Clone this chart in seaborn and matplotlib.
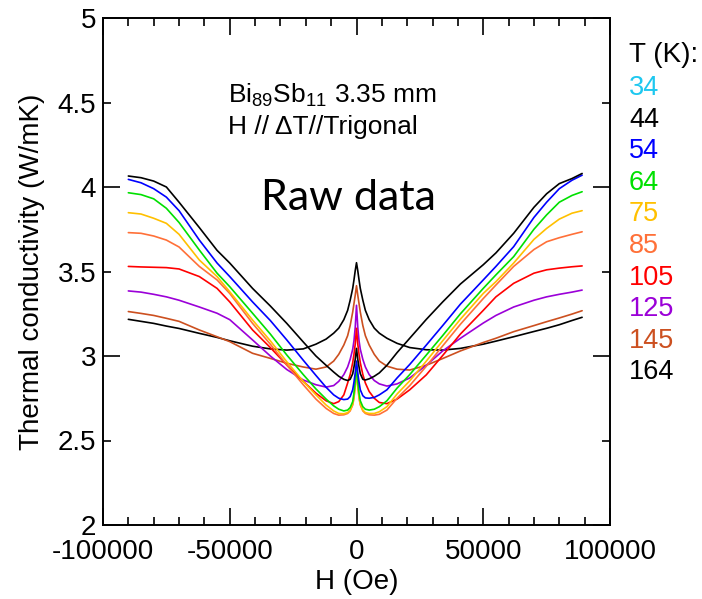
import matplotlib
matplotlib.use('Agg')
import matplotlib.pyplot as plt
import seaborn as sns
import pandas as pd
from matplotlib.ticker import FixedLocator, FuncFormatter

# ---- data -----------------------------------------------------------
H = [-90000, -85000, -80000, -75000, -70000, -62000, -55000, -50000, -41000, -34000,
     -27500, -21000, -16000, -12000, -9000, -7000, -5000, -3500, -2500, -1500,
     -1000, -500, 0,
     500, 1000, 1500, 2500, 3500, 5000, 7000, 9000, 12000, 16000,
     21000, 27500, 34000, 41000, 50000, 55000, 62000, 70000, 75000, 80000,
     85000, 89000]

k44 = [4.065, 4.055, 4.035, 4.00, 3.91, 3.76, 3.625, 3.55, 3.40, 3.296,
       3.193, 3.083, 3.00, 2.945, 2.905, 2.88, 2.862, 2.855, 2.862, 2.895,
       2.935, 2.98, 3.045,
       2.98, 2.935, 2.895, 2.862, 2.858, 2.865, 2.88, 2.90, 2.945, 3.02,
       3.105, 3.216, 3.32, 3.426, 3.54, 3.61, 3.726, 3.88, 3.96, 4.02,
       4.05, 4.08]
k54 = [4.045, 4.025, 3.99, 3.94, 3.86, 3.686, 3.55, 3.47, 3.32, 3.21,
       3.095, 2.975, 2.885, 2.815, 2.77, 2.75, 2.742, 2.745, 2.76, 2.80,
       2.845, 2.90, 2.97,
       2.90, 2.845, 2.80, 2.765, 2.752, 2.75, 2.755, 2.77, 2.80, 2.87,
       2.95, 3.064, 3.18, 3.307, 3.45, 3.53, 3.647, 3.82, 3.91, 3.99,
       4.04, 4.07]
k64 = [3.966, 3.955, 3.93, 3.874, 3.79, 3.627, 3.49, 3.41, 3.253, 3.13,
       3.006, 2.89, 2.805, 2.745, 2.705, 2.685, 2.675, 2.68, 2.695, 2.73,
       2.78, 2.85, 2.95,
       2.85, 2.78, 2.735, 2.70, 2.685, 2.68, 2.685, 2.70, 2.735, 2.81,
       2.89, 3.005, 3.121, 3.25, 3.40, 3.48, 3.588, 3.75, 3.835, 3.91,
       3.95, 3.972]
k75 = [3.848, 3.84, 3.815, 3.785, 3.72, 3.568, 3.47, 3.38, 3.213, 3.09,
       2.966, 2.85, 2.77, 2.71, 2.675, 2.66, 2.658, 2.665, 2.68, 2.715,
       2.76, 2.83, 2.93,
       2.83, 2.76, 2.715, 2.68, 2.665, 2.66, 2.66, 2.67, 2.70, 2.775,
       2.853, 2.969, 3.09, 3.218, 3.37, 3.44, 3.55, 3.69, 3.755, 3.81,
       3.845, 3.86]
k85 = [3.73, 3.726, 3.71, 3.686, 3.645, 3.53, 3.45, 3.37, 3.193, 3.07,
       2.947, 2.83, 2.745, 2.69, 2.66, 2.65, 2.652, 2.66, 2.675, 2.71,
       2.75, 2.82, 2.92,
       2.82, 2.75, 2.71, 2.675, 2.66, 2.652, 2.65, 2.655, 2.68, 2.75,
       2.825, 2.939, 3.06, 3.188, 3.34, 3.42, 3.53, 3.63, 3.676, 3.70,
       3.72, 3.735]
k105 = [3.53, 3.527, 3.525, 3.523, 3.515, 3.47, 3.40, 3.32, 3.154, 3.05,
        2.947, 2.85, 2.78, 2.735, 2.718, 2.73, 2.77, 2.84, 2.89, 2.96,
        3.01, 3.07, 3.164,
        3.07, 3.01, 2.96, 2.89, 2.84, 2.79, 2.75, 2.725, 2.718, 2.745,
        2.80, 2.888, 3.003, 3.13, 3.27, 3.35, 3.43, 3.49, 3.51, 3.52,
        3.528, 3.533]
k125 = [3.385, 3.378, 3.365, 3.35, 3.33, 3.29, 3.253, 3.215, 3.095, 3.00,
        2.92, 2.858, 2.83, 2.816, 2.825, 2.85, 2.89, 2.935, 2.98, 3.04,
        3.09, 3.17, 3.30,
        3.17, 3.09, 3.04, 2.98, 2.935, 2.89, 2.855, 2.835, 2.822, 2.835,
        2.87, 2.945, 3.03, 3.105, 3.195, 3.24, 3.29, 3.33, 3.35, 3.365,
        3.378, 3.39]
k145 = [3.263, 3.252, 3.24, 3.223, 3.205, 3.154, 3.114, 3.085, 3.016, 2.986,
        2.957, 2.935, 2.922, 2.935, 2.97, 3.01, 3.065, 3.12, 3.18, 3.26,
        3.31, 3.36, 3.416,
        3.36, 3.31, 3.26, 3.18, 3.12, 3.065, 3.01, 2.97, 2.94, 2.922,
        2.917, 2.945, 2.985, 3.03, 3.08, 3.105, 3.144, 3.18, 3.203, 3.225,
        3.248, 3.268]
k164 = [3.217, 3.205, 3.193, 3.177, 3.163, 3.134, 3.11, 3.09, 3.058, 3.042,
        3.035, 3.042, 3.07, 3.10, 3.135, 3.165, 3.215, 3.27, 3.33, 3.40,
        3.45, 3.505, 3.552,
        3.505, 3.45, 3.40, 3.33, 3.27, 3.215, 3.165, 3.135, 3.105, 3.075,
        3.05, 3.037, 3.035, 3.045, 3.07, 3.088, 3.114, 3.145, 3.164, 3.185,
        3.21, 3.229]

temps = ['34', '44', '54', '64', '75', '85', '105', '125', '145', '164']
colors = ['#1ec8f0', '#000000', '#0000ff', '#00e000', '#ffc000', '#ff7038',
          '#ff0000', '#9b00d8', '#cc5020', '#000000']
curves = {'44': k44, '54': k54, '64': k64, '75': k75, '85': k85,
          '105': k105, '125': k125, '145': k145, '164': k164}
for _k, _v in curves.items():
    assert len(_v) == len(H), (_k, len(_v), len(H))

x_major = [-100000, -50000, 0, 50000, 100000]
x_minor = [v for v in range(-90000, 100000, 10000) if v % 50000 != 0]
y_major = [2, 3, 4, 5]
y_minor = [2.5, 3.5, 4.5]

# ---- figure ---------------------------------------------------------
sns.set_theme(style='ticks')
plt.rcParams['font.family'] = ['Liberation Sans', 'DejaVu Sans']
plt.rcParams['axes.unicode_minus'] = False
plt.rcParams['mathtext.fontset'] = 'custom'
plt.rcParams['mathtext.rm'] = 'Liberation Sans'
plt.rcParams['mathtext.it'] = 'Liberation Sans:italic'

fig = plt.figure(figsize=(7.02, 5.99), dpi=100)
ax = fig.add_axes([103 / 702, 74 / 599, 507 / 702, 507 / 599])

rows = []
for t, vals in curves.items():
    for h, k in zip(H, vals):
        rows.append((t, h, k))
df = pd.DataFrame(rows, columns=['T', 'H', 'kappa'])
pal = dict(zip(temps, colors))
order = [t for t in temps if t in curves][::-1]
sns.lineplot(data=df, x='H', y='kappa', hue='T', hue_order=order, palette=pal,
             estimator=None, sort=False, legend=False, linewidth=1.2, ax=ax)

ax.set_xlim(-100000, 100000)
ax.set_ylim(2, 5)
ax.xaxis.set_major_locator(FixedLocator(x_major))
ax.xaxis.set_minor_locator(FixedLocator(x_minor))
ax.xaxis.set_major_formatter(FuncFormatter(lambda v, p: f'{int(round(v))}'))
ax.xaxis.set_minor_formatter(FuncFormatter(lambda v, p: ''))
ax.yaxis.set_major_locator(FixedLocator(y_major))
ax.yaxis.set_minor_locator(FixedLocator(y_minor))
ax.yaxis.set_major_formatter(FuncFormatter(lambda v, p: f'{v:g}'))
ax.yaxis.set_minor_formatter(FuncFormatter(lambda v, p: f'{v:g}'))

ax.tick_params(which='both', direction='in', top=True, right=True,
               labelsize=20, width=1.2, color='black', labelcolor='black')
ax.tick_params(axis='y', which='both', pad=5)
ax.tick_params(axis='x', which='both', pad=10)
ax.tick_params(which='major', length=12)
ax.tick_params(which='minor', length=6)
for s in ax.spines.values():
    s.set_linewidth(1.4)
    s.set_color('black')

ax.set_xlabel('H (Oe)', fontsize=20, labelpad=3, color='black')
ax.set_ylabel('Thermal conductivity (W/mK)', fontsize=20, labelpad=9, color='black')

fig.text(228 / 702, 1 - 95 / 599, r'Bi$_{89}$Sb$_{11}$ 3.35 mm', fontsize=19,
         ha='left', va='center', color='black')
fig.text(228 / 702, 1 - 127 / 599, 'H // \u0394T//Trigonal', fontsize=19,
         ha='left', va='center', color='black')
fig.text(348 / 702, 1 - 198 / 599, 'Raw data', fontsize=31, family='Lato',
         ha='center', va='center', color='black')

fig.text(629 / 702, 1 - 55 / 599, 'T (K):', fontsize=20, ha='left', va='center',
         color='black')
for i, (t, c) in enumerate(zip(temps, colors)):
    fig.text(629 / 702, 1 - (88 + i * 31.6) / 599, t, fontsize=19.5,
             ha='left', va='center', color=c)

fig.savefig('out.png', dpi=100)
